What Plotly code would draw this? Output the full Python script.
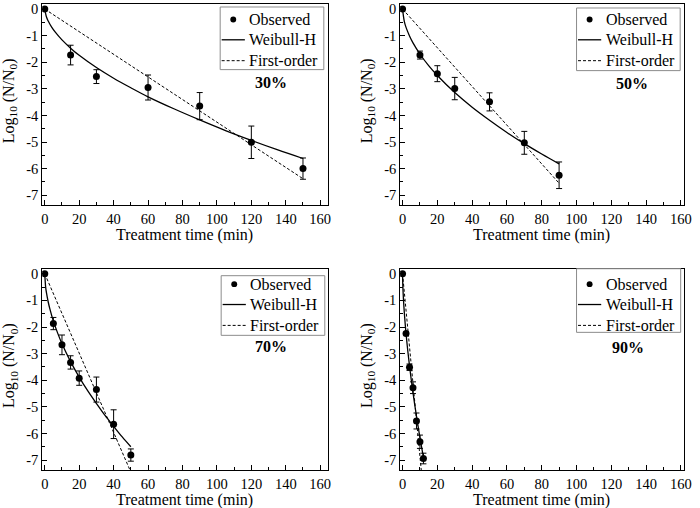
import plotly.graph_objects as go

# observed points (time in min, log10 N/N0, error bar)
t30 = [0, 15, 30, 60, 90, 120, 150]
obs30 = [0, -1.73, -2.54, -2.95, -3.65, -5.01, -6.0]
err30 = [0, 0.37, 0.26, 0.47, 0.51, 0.61, 0.40]

t50 = [0, 10, 20, 30, 50, 70, 90]
obs50 = [0, -1.73, -2.43, -2.99, -3.49, -5.03, -6.25]
err50 = [0, 0.15, 0.30, 0.42, 0.34, 0.43, 0.50]

t70 = [0, 5, 10, 15, 20, 30, 40, 50]
obs70 = [0, -1.87, -2.67, -3.33, -3.92, -4.35, -5.65, -6.81]
err70 = [0, 0.23, 0.37, 0.25, 0.27, 0.47, 0.54, 0.23]

t90 = [0, 2, 4, 6, 8, 10, 12]
obs90 = [0, -2.24, -3.51, -4.28, -5.53, -6.31, -6.94]
err90 = [0, 0.05, 0.12, 0.22, 0.30, 0.25, 0.20]

# Weibull-H curves
wt30 = [0, 1, 2, 4, 6, 10, 15, 20, 30, 40, 50, 60, 75, 90, 105, 120, 135, 150]
wy30 = [0, -0.30, -0.45, -0.68, -0.86, -1.16, -1.47, -1.74, -2.20, -2.60, -2.96,
        -3.30, -3.75, -4.17, -4.57, -4.94, -5.29, -5.62]
wt50 = [0, 1, 2, 4, 6, 10, 15, 20, 30, 40, 50, 60, 70, 80, 90]
wy50 = [0, -0.46, -0.69, -1.01, -1.27, -1.69, -2.13, -2.50, -3.14, -3.69, -4.18,
        -4.64, -5.06, -5.45, -5.82]
wt70 = [0, 0.5, 1, 2, 3, 5, 7.5, 10, 15, 20, 25, 30, 35, 40, 45, 50]
wy70 = [0, -0.49, -0.72, -1.06, -1.33, -1.78, -2.23, -2.63, -3.30, -3.88, -4.40,
        -4.87, -5.32, -5.73, -6.13, -6.50]
wt90 = [0, 0.1, 0.25, 0.5, 1, 1.5, 2, 3, 4, 5, 6, 7, 8, 9, 10, 11, 12]
wy90 = [0, -0.34, -0.61, -0.94, -1.45, -1.87, -2.24, -2.89, -3.46, -3.98, -4.47,
        -4.92, -5.35, -5.76, -6.16, -6.53, -6.90]

# First-order lines
ft30, fy30 = [0, 150], [0, -6.38]
ft50, fy50 = [0, 90], [0, -6.55]
ft70, fy70 = [0, 50], [0, -7.45]
ft90, fy90 = [0, 11], [0, -7.55]

labels = ['30%', '50%', '70%', '90%']
series_names = ['Observed', 'Weibull-H', 'First-order']
x_title = 'Treatment time (min)'
y_title = 'Log<sub>10</sub> (N/N<sub>0</sub>)'
y_ticks = [0, -1, -2, -3, -4, -5, -6, -7]
y_ticktext = ['0', '-1', '-2', '-3', '-4', '-5', '-6', '-7']
x_ticks = [0, 20, 40, 60, 80, 100, 120, 140, 160]

panels = [
    (t30, obs30, err30, wt30, wy30, ft30, fy30),
    (t50, obs50, err50, wt50, wy50, ft50, fy50),
    (t70, obs70, err70, wt70, wy70, ft70, fy70),
    (t90, obs90, err90, wt90, wy90, ft90, fy90),
]

W, H = 700, 508
xdom = [[0.0596, 0.4729], [0.5776, 0.9879], [0.0596, 0.4729], [0.5776, 0.9879]]
ydom = [[0.5994, 0.998], [0.5994, 0.998], [0.0748, 0.4738], [0.0748, 0.4738]]
xrng = [[-1.5, 164.4], [-1.4, 161.6], [-1.5, 164.4], [-1.4, 161.6]]
# legend box geometry, pixels from each panel's top-right corner
box_top = [3, 4, 7, 0]
box_bot = [66, 67, 67, 64]
box_left = [-109, -108.5, -108, -108.5]
box_right = [-4, -3.5, -3, -3]
row_y = [15.5, 36, 57]
lab_dx = [-58, -52, -58, -56]
lab_dy = [79, 80, 78.5, 79.5]
# axis titles: pixels below the frame bottom / left of the frame
xt_dy = [29.5, 29.5, 30, 30]
yt_dx = -33

FONT = "'Liberation Serif', 'Times New Roman', Times, serif"
fig = go.Figure()
shapes, annotations = [], []

for i, (t, obs, err, wt, wy, ft, fy) in enumerate(panels):
    n = '' if i == 0 else str(i + 1)
    xa, ya = 'x' + n, 'y' + n
    fig.add_trace(go.Scatter(
        x=t, y=obs, mode='markers', name='Observed', xaxis=xa, yaxis=ya,
        marker=dict(color='black', size=7),
        error_y=dict(type='data', array=err, color='black', thickness=1, width=3),
    ))
    fig.add_trace(go.Scatter(
        x=wt, y=wy, mode='lines', name='Weibull-H', xaxis=xa, yaxis=ya,
        line=dict(color='black', width=1.3), line_shape='spline',
    ))
    fig.add_trace(go.Scatter(
        x=ft, y=fy, mode='lines', name='First-order', xaxis=xa, yaxis=ya,
        line=dict(color='black', width=1, dash='3px,2px'),
    ))
    fig.layout['xaxis' + n] = dict(
        domain=xdom[i], range=xrng[i], anchor=ya,
        tickvals=x_ticks, ticks='inside', ticklen=5, tickcolor='black',
        minor=dict(dtick=10, ticks='inside', ticklen=3, tickcolor='black'),
        showline=True, linecolor='black', linewidth=1, mirror=True,
        showgrid=False, zeroline=False, tickfont=dict(size=14.5),
    )
    fig.layout['yaxis' + n] = dict(
        domain=ydom[i], range=[-7.38, 0.19], anchor=xa,
        tickvals=y_ticks, ticktext=y_ticktext, ticks='inside', ticklen=5, tickcolor='black',
        minor=dict(dtick=0.5, ticks='inside', ticklen=3, tickcolor='black'),
        showline=True, linecolor='black', linewidth=1, mirror=True,
        showgrid=False, zeroline=False, tickfont=dict(size=14.5),
    )

    pw = (xdom[i][1] - xdom[i][0]) * W
    ph = (ydom[i][1] - ydom[i][0]) * H
    px = lambda dx: 1 + dx / pw
    py = lambda dy: 1 - dy / ph
    ref = dict(xref=xa + ' domain', yref=ya + ' domain')

    # axis titles
    annotations.append(dict(text=x_title, **ref, x=0.5, y=-xt_dy[i] / ph,
                            xanchor='center', yanchor='middle', showarrow=False,
                            font=dict(size=16)))
    annotations.append(dict(text=y_title, **ref, x=yt_dx / pw, y=0.52, textangle=-90,
                            xanchor='center', yanchor='middle', showarrow=False,
                            font=dict(size=16)))

    # legend drawn inside the frame
    shapes.append(dict(type='rect', **ref, x0=px(box_left[i]), x1=px(box_right[i]),
                       y0=py(box_bot[i]), y1=py(box_top[i]),
                       line=dict(color='#8c8c8c', width=1), fillcolor='white', layer='above'))
    gx0, gx1 = box_left[i] + 1.5, box_left[i] + 25
    gxc = (gx0 + gx1) / 2
    shapes.append(dict(type='circle', **ref, x0=px(gxc - 3), x1=px(gxc + 3),
                       y0=py(row_y[0] + 3), y1=py(row_y[0] - 3),
                       line=dict(color='black', width=0), fillcolor='black', layer='above'))
    shapes.append(dict(type='line', **ref, x0=px(gx0), x1=px(gx1), y0=py(row_y[1]), y1=py(row_y[1]),
                       line=dict(color='black', width=1.3), layer='above'))
    shapes.append(dict(type='line', **ref, x0=px(gx0), x1=px(gx1), y0=py(row_y[2]), y1=py(row_y[2]),
                       line=dict(color='black', width=1, dash='3px,2px'), layer='above'))
    for k, name in enumerate(series_names):
        annotations.append(dict(text=name, **ref, x=px(gx1 + 2.5), y=py(row_y[k]),
                                xanchor='left', yanchor='middle', showarrow=False,
                                font=dict(size=16)))
    annotations.append(dict(
        text='<b>' + labels[i] + '</b>', **ref,
        x=px(lab_dx[i]), y=py(lab_dy[i]), xanchor='center', yanchor='middle',
        showarrow=False, font=dict(size=16),
    ))

fig.update_layout(
    width=W, height=H,
    margin=dict(l=0, r=0, t=0, b=0),
    paper_bgcolor='white', plot_bgcolor='white',
    font=dict(family=FONT, color='black', size=15),
    showlegend=False,
    shapes=shapes, annotations=annotations,
)
# drop the browser's default 8px body margin so the figure sits at the window corner
fig.write_html('out.html', config={'displayModeBar': False},
               post_script="document.body.style.margin='0';")
